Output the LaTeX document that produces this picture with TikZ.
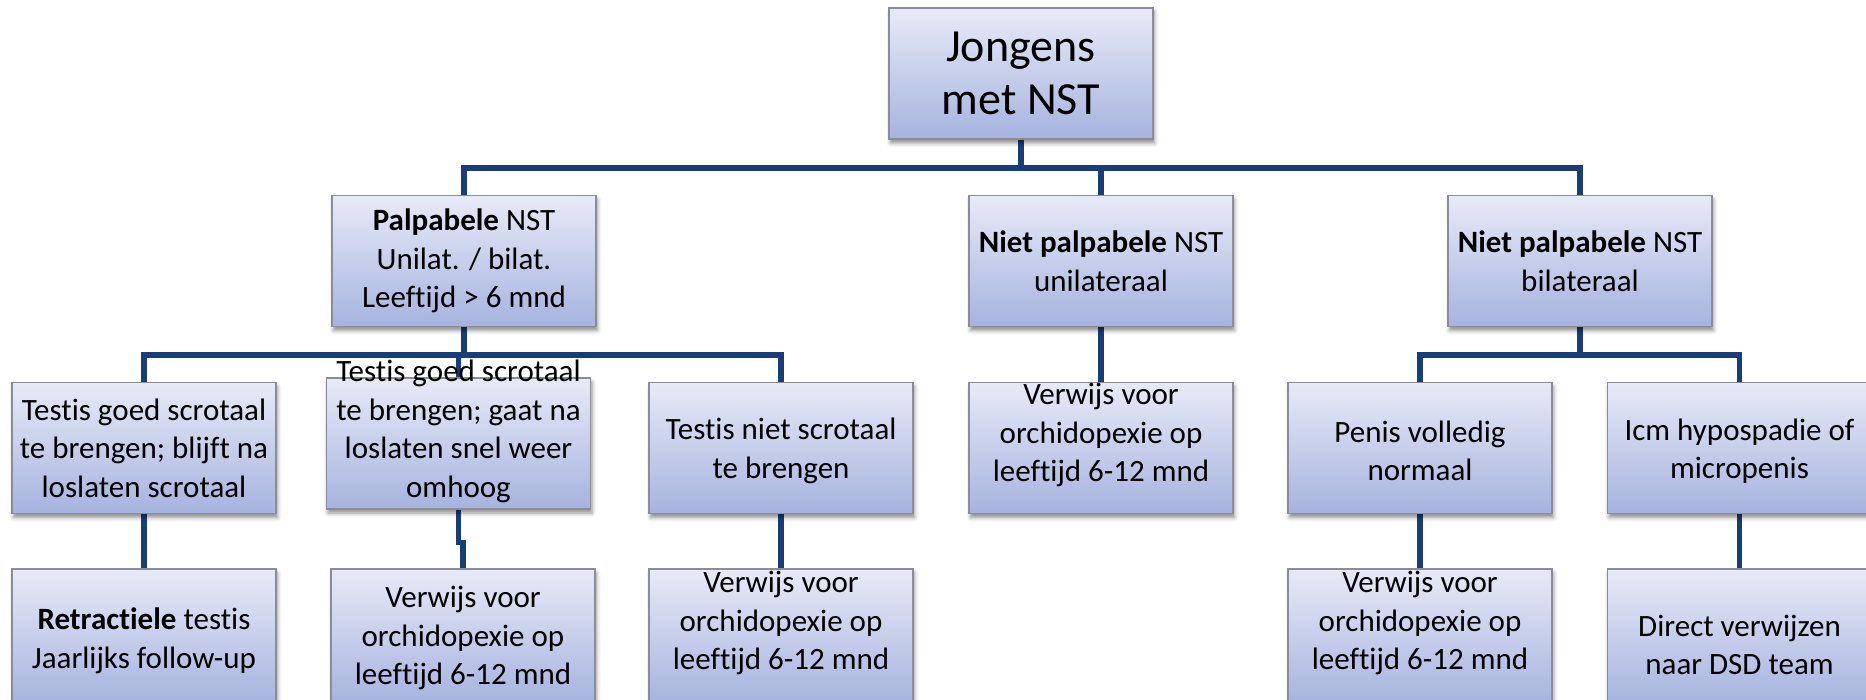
\documentclass[tikz,border=0pt]{standalone}
\usepackage{fontspec}
\setmainfont[Ligatures=NoCommon]{Carlito}
\usetikzlibrary{shadows.blur}
\definecolor{conncol}{RGB}{24,62,122}
\definecolor{boxtop}{RGB}{231,234,247}
\definecolor{boxbot}{RGB}{166,179,223}
\definecolor{boxline}{RGB}{138,141,152}
\pgfdeclarelayer{bg}
\pgfsetlayers{bg,main}
\begin{document}
\begin{tikzpicture}[x=1pt,y=-1pt,
  box/.style={draw=boxline, line width=1.2pt, top color=boxtop, bottom color=boxbot,
    minimum width=264pt, minimum height=131pt, inner sep=0pt,
    blur shadow={shadow xshift=1.5pt, shadow yshift=-4pt, shadow blur radius=4pt, shadow opacity=45}},
  lowbox/.style={box, minimum height=134pt},
  txt/.style={align=center, inner sep=0pt, font=\fontsize{31}{38.5}\selectfont},
  bigtxt/.style={align=center, inner sep=0pt, font=\fontsize{46}{53}\selectfont},
  conn/.style={draw=conncol, line width=5.5pt, line join=miter}]
\useasboundingbox (0,0) rectangle (1866,700);
% level 0
\node[box] (T) at (1021,73.5) {};
\node[bigtxt] (Tt) at (T) {Jongens\\met NST};
% level 1
\node[box] (P) at (464,261) {};
\node[txt] (Pt) at (P) {\textbf{Palpabele} NST\\Unilat. / bilat.\\Leeftijd > 6 mnd};
\node[box] (U) at (1101,261) {};
\node[txt] (Ut) at (U) {\textbf{Niet palpabele} NST\\unilateraal};
\node[box] (Bi) at (1580,261) {};
\node[txt] (Bit) at (Bi) {\textbf{Niet palpabele} NST\\bilateraal};
% level 2
\node[box] (A) at (144,448) {};
\node[txt] (At) at (A) {Testis goed scrotaal\\te brengen; blijft na\\loslaten scrotaal};
\node[box] (B) at (458.5,443.5) {};
\node[txt, yshift=12pt] (Bt) at (B) {Testis goed scrotaal\\te brengen; gaat na\\loslaten snel weer\\omhoog};
\node[box] (C) at (781,448) {};
\node[txt, yshift=-3pt] (Ct) at (C) {Testis niet scrotaal\\te brengen};
\node[box] (D) at (1101,448) {};
\node[txt, yshift=13pt] (Dt) at (D) {Verwijs voor\\orchidopexie op\\leeftijd 6-12 mnd};
\node[box] (E) at (1420,448) {};
\node[txt, yshift=-3pt] (Et) at (E) {Penis volledig\\normaal};
\node[box] (F) at (1739.5,448) {};
\node[txt, yshift=-3pt] (Ft) at (F) {Icm hypospadie of\\micropenis};
% level 3
\node[lowbox] (A2) at (144,636) {};
\node[txt, yshift=-5pt] (A2t) at (A2) {\textbf{Retractiele} testis\\Jaarlijks follow-up};
\node[lowbox] (B2) at (463,636) {};
\node[txt, yshift=-2pt] (B2t) at (B2) {Verwijs voor\\orchidopexie op\\leeftijd 6-12 mnd};
\node[lowbox] (C2) at (781,636) {};
\node[txt, yshift=13pt] (C2t) at (C2) {Verwijs voor\\orchidopexie op\\leeftijd 6-12 mnd};
\node[lowbox] (E2) at (1420,636) {};
\node[txt, yshift=13pt] (E2t) at (E2) {Verwijs voor\\orchidopexie op\\leeftijd 6-12 mnd};
\node[lowbox] (F2) at (1739.5,636) {};
\node[txt, yshift=-9pt] (F2t) at (F2) {Direct verwijzen\\naar DSD team};
% connectors
\coordinate (mb) at (0,168);
\coordinate (sb) at (0,355);
\begin{pgfonlayer}{bg}
\draw[conn] (P.north) -- (P.north |- mb) -- (Bi.north |- mb) -- (Bi.north);
\draw[conn] (T.south) -- (T.south |- mb);
\draw[conn] (U.north) -- (U.north |- mb);
\draw[conn] (A.north) -- (A.north |- sb) -- (C.north |- sb) -- (C.north);
\draw[conn] (P.south) -- (P.south |- sb);
\draw[conn] (B.north) -- (B.north |- sb);
\draw[conn] (E.north) -- (E.north |- sb) -- (F.north |- sb) -- (F.north);
\draw[conn] (Bi.south) -- (Bi.south |- sb);
\draw[conn] (U.south) -- (D.north);
\draw[conn] (A.south) -- (A2.north);
\draw[conn] (B.south) -- ++(0,33) -| (B2.north);
\draw[conn] (C.south) -- (C2.north);
\draw[conn] (E.south) -- (E2.north);
\draw[conn] (F.south) -- (F2.north);
\end{pgfonlayer}
\end{tikzpicture}
\end{document}
